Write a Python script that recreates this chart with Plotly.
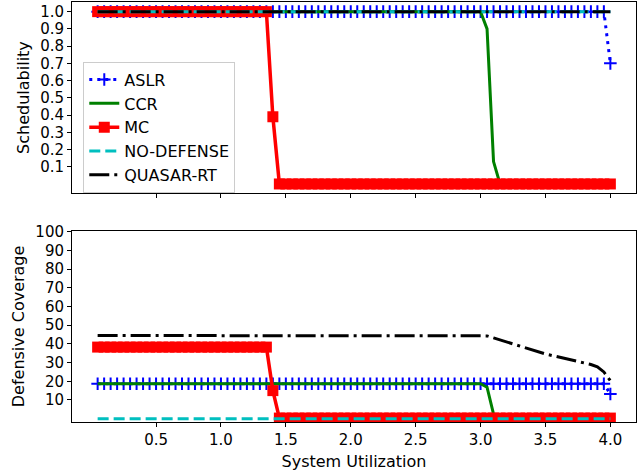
import plotly.graph_objects as go
from plotly.subplots import make_subplots

# System utilization (0.05 .. 4.00 step 0.05)
utilization = [
    0.05, 0.10, 0.15, 0.20, 0.25, 0.30, 0.35, 0.40, 0.45, 0.50,
    0.55, 0.60, 0.65, 0.70, 0.75, 0.80, 0.85, 0.90, 0.95, 1.00,
    1.05, 1.10, 1.15, 1.20, 1.25, 1.30, 1.35, 1.40, 1.45, 1.50,
    1.55, 1.60, 1.65, 1.70, 1.75, 1.80, 1.85, 1.90, 1.95, 2.00,
    2.05, 2.10, 2.15, 2.20, 2.25, 2.30, 2.35, 2.40, 2.45, 2.50,
    2.55, 2.60, 2.65, 2.70, 2.75, 2.80, 2.85, 2.90, 2.95, 3.00,
    3.05, 3.10, 3.15, 3.20, 3.25, 3.30, 3.35, 3.40, 3.45, 3.50,
    3.55, 3.60, 3.65, 3.70, 3.75, 3.80, 3.85, 3.90, 3.95, 4.00,
]

# Schedulability (top panel)
sched_aslr = [1.0] * 79 + [0.70]
sched_ccr = [1.0] * 60 + [0.90, 0.13] + [0.0] * 18
sched_mc = [1.0] * 27 + [0.39] + [0.0] * 52
sched_nodef = [1.0] * 80
sched_quasar = [1.0] * 80

# Defensive coverage (bottom panel)
cov_aslr = [18.7] * 79 + [13.2]
cov_ccr = [18.7] * 60 + [16.8, 2.4] + [0.0] * 18
cov_mc = [38.3] * 27 + [15.0] + [0.3] * 52
cov_nodef = [0.0] * 80
cov_quasar = [44.5] * 59 + [
    44.5, 44.3, 43.2, 42.1, 41.0, 39.9, 38.8, 37.7, 36.6, 35.5,
    34.6, 33.8, 33.0, 32.2, 31.4, 30.6, 29.8, 29.0, 27.8, 25.0, 20.3,
]

x_ticks = [0.5, 1.0, 1.5, 2.0, 2.5, 3.0, 3.5, 4.0]
top_y_ticks = [0.1, 0.2, 0.3, 0.4, 0.5, 0.6, 0.7, 0.8, 0.9, 1.0]
bot_y_ticks = [10, 20, 30, 40, 50, 60, 70, 80, 90, 100]

names = ["ASLR", "CCR", "MC", "NO-DEFENSE", "QUASAR-RT"]
top_series = [sched_aslr, sched_ccr, sched_mc, sched_nodef, sched_quasar]
bot_series = [cov_aslr, cov_ccr, cov_mc, cov_nodef, cov_quasar]

styles = {
    "ASLR": dict(line=dict(color="#0000ff", width=3, dash="3px,5px"),
                 marker=dict(symbol="cross-thin", size=9,
                             line=dict(color="#0000ff", width=2)),
                 mode="lines+markers"),
    "CCR": dict(line=dict(color="#008000", width=3), mode="lines"),
    "MC": dict(line=dict(color="#ff0000", width=3.5),
               marker=dict(symbol="square", size=11, color="#ff0000"),
               mode="lines+markers"),
    "NO-DEFENSE": dict(line=dict(color="#00bfbf", width=3, dash="11px,5px"),
                       mode="lines"),
    "QUASAR-RT": dict(line=dict(color="#000000", width=3,
                                dash="20px,5px,3px,5px"),
                      mode="lines"),
}

fig = make_subplots(rows=2, cols=1, shared_xaxes=False,
                    vertical_spacing=0.09)

for name, ys in zip(names, top_series):
    fig.add_trace(go.Scatter(x=utilization, y=ys, name=name,
                             showlegend=True, **styles[name]),
                  row=1, col=1)
for name, ys in zip(names, bot_series):
    fig.add_trace(go.Scatter(x=utilization, y=ys, name=name,
                             showlegend=False, **styles[name]),
                  row=2, col=1)

font = dict(family="DejaVu Sans", size=15, color="black")
label_font = dict(family="DejaVu Sans", size=16, color="black")
axis_common = dict(showline=True, linecolor="black", linewidth=1,
                   mirror=True, ticks="outside", ticklen=4, tickwidth=1,
                   tickcolor="black", showgrid=False, zeroline=False,
                   tickfont=font, automargin=False)

fig.update_xaxes(range=[-0.1475, 4.1975], tickvals=x_ticks,
                 **axis_common)
fig.update_xaxes(showticklabels=False, row=1, col=1)
fig.update_xaxes(ticktext=[f"{v:.1f}" for v in x_ticks],
                 title=dict(text="System Utilization", font=label_font,
                            standoff=9),
                 row=2, col=1)
fig.update_yaxes(**axis_common)
fig.update_yaxes(range=[-0.053, 1.056], tickvals=top_y_ticks,
                 ticktext=[f"{v:.1f}" for v in top_y_ticks],
                 title=dict(text="Schedulability", font=label_font,
                            standoff=6),
                 row=1, col=1)
fig.update_yaxes(range=[-1.8, 100.5], tickvals=bot_y_ticks,
                 title=dict(text="Defensive Coverage", font=label_font,
                            standoff=6),
                 row=2, col=1)

fig.update_layout(
    width=644, height=471,
    margin=dict(l=72, r=8, t=2, b=49, autoexpand=False),
    paper_bgcolor="white", plot_bgcolor="white",
    font=font,
    showlegend=True,
    legend=dict(x=0.02, y=0.858, xanchor="left", yanchor="top",
                bgcolor="rgba(255,255,255,0.8)", bordercolor="#cccccc",
                borderwidth=1, font=label_font, tracegroupgap=0),
)
fig.layout.yaxis.domain = [0.545, 1.0]
fig.layout.yaxis2.domain = [0.0, 0.455]

fig.write_html("out.html",
               config={"displayModeBar": False},
               post_script="document.body.style.margin='0px';")
